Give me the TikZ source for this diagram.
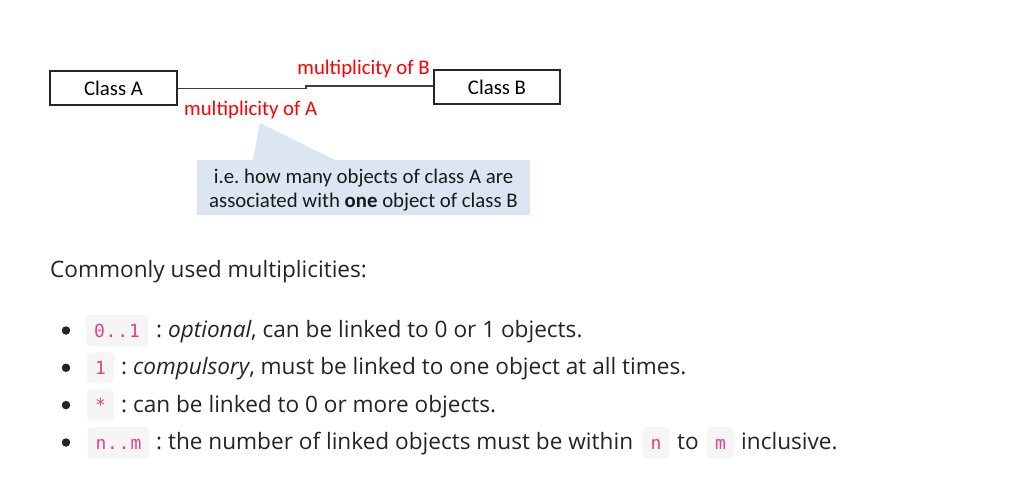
\documentclass[tikz,border=0pt]{standalone}
\usepackage{fontspec}
\setmainfont{Open Sans}
\newfontfamily\diagfont{Carlito}
\newfontfamily\codefont{DejaVu Sans Mono}
\definecolor{bodytext}{HTML}{212529}
\definecolor{codepink}{HTML}{E83E8C}
\definecolor{codebg}{HTML}{F5F5F5}
\definecolor{calloutfill}{HTML}{DCE6F2}
\definecolor{multred}{HTML}{FF0000}
\newcommand\cch[1]{\makebox[11.7pt]{#1}}
\frenchspacing
\begin{document}
\frenchspacing
\begin{tikzpicture}[x=1pt,y=-1pt,
  classbox/.style={draw=black!85, line width=1.3pt, minimum height=34pt, inner sep=0pt,
    font=\diagfont\fontsize{20.8}{24}\selectfont},
  conn/.style={draw=black!75, line width=1.2pt},
  mult/.style={text=multred, inner sep=0pt, font=\diagfont\fontsize{20.8}{24}\selectfont},
  callout/.style={inner sep=0pt, align=center, text=black!90,
    font=\diagfont\fontsize{20.8}{24}\selectfont},
  codebox/.style={fill=codebg, rounded corners=4pt, text=codepink, anchor=base,
    font=\codefont\fontsize{18}{20}\selectfont, text height=13pt, text depth=0pt,
    inner xsep=7.5pt, inner ysep=9pt},
  body/.style={font=\fontsize{22.6}{27}\selectfont, text=bodytext, inner sep=0pt, anchor=base west},
  bulletdot/.style={circle, fill=bodytext, inner sep=0pt, minimum size=8.5pt}
]
\useasboundingbox[fill=white] (0,0) rectangle (1020,477);

% diagram
\node[classbox, minimum width=127pt] (A) at (113.5,88) {Class A};
\node[classbox, minimum width=126pt] (B) at (497,87) {Class B};
\coordinate (s1) at (306,88.5);
\coordinate (s2) at (306,86);
\draw[conn] (A.east |- s1) -- (s1) -- (s2) -- (B.west |- s2);
\node[mult, anchor=base east] (mB) at (430,74) {multiplicity of B};
\node[mult, anchor=base west] (mA) at (184,115) {multiplicity of A};

% callout
\coordinate (tip) at (260,123);
\fill[calloutfill] (252.7,161) -- (tip) -- (337,161) -- cycle;
\fill[calloutfill] (197,160) rectangle (530,215);
\node[callout] (note) at (363.5,190)
  {i.e. how many objects of class A are\\associated with \textbf{one} object of class B};

% text
\node[body] (head) at (50,277) {Commonly used multiplicities:};

\node[bulletdot] (b1) at (66,330.5) {};
\node[codebox] (c1) at (117,337) {\cch{0}\cch{.}\cch{.}\cch{1}};
\node[body] (t1) at (156,337.5) {: \textit{optional}, can be linked to 0 or 1 objects.};

\node[bulletdot] (b2) at (66,367.8) {};
\node[codebox] (c2) at (100.5,374.3) {\cch{1}};
\node[body] (t2) at (121,374.8) {: \textit{compulsory}, must be linked to one object at all times.};

\node[bulletdot] (b3) at (66,405.1) {};
\node[codebox] (c3) at (100.5,411.6) {\cch{*}};
\node[body] (t3) at (121,412.1) {: can be linked to 0 or more objects.};

\node[bulletdot] (b4) at (66,442.5) {};
\node[codebox] (c4) at (118.5,449) {\cch{n}\cch{.}\cch{.}\cch{m}};
\node[body] (t4) at (156,449.5) {: the number of linked objects must be within};
\node[codebox] (c5) at (656,449) {\cch{n}};
\node[body] (t5) at (677,449.5) {to};
\node[codebox] (c6) at (720.5,449) {\cch{m}};
\node[body] (t6) at (741,449.5) {inclusive.};
\end{tikzpicture}
\end{document}
